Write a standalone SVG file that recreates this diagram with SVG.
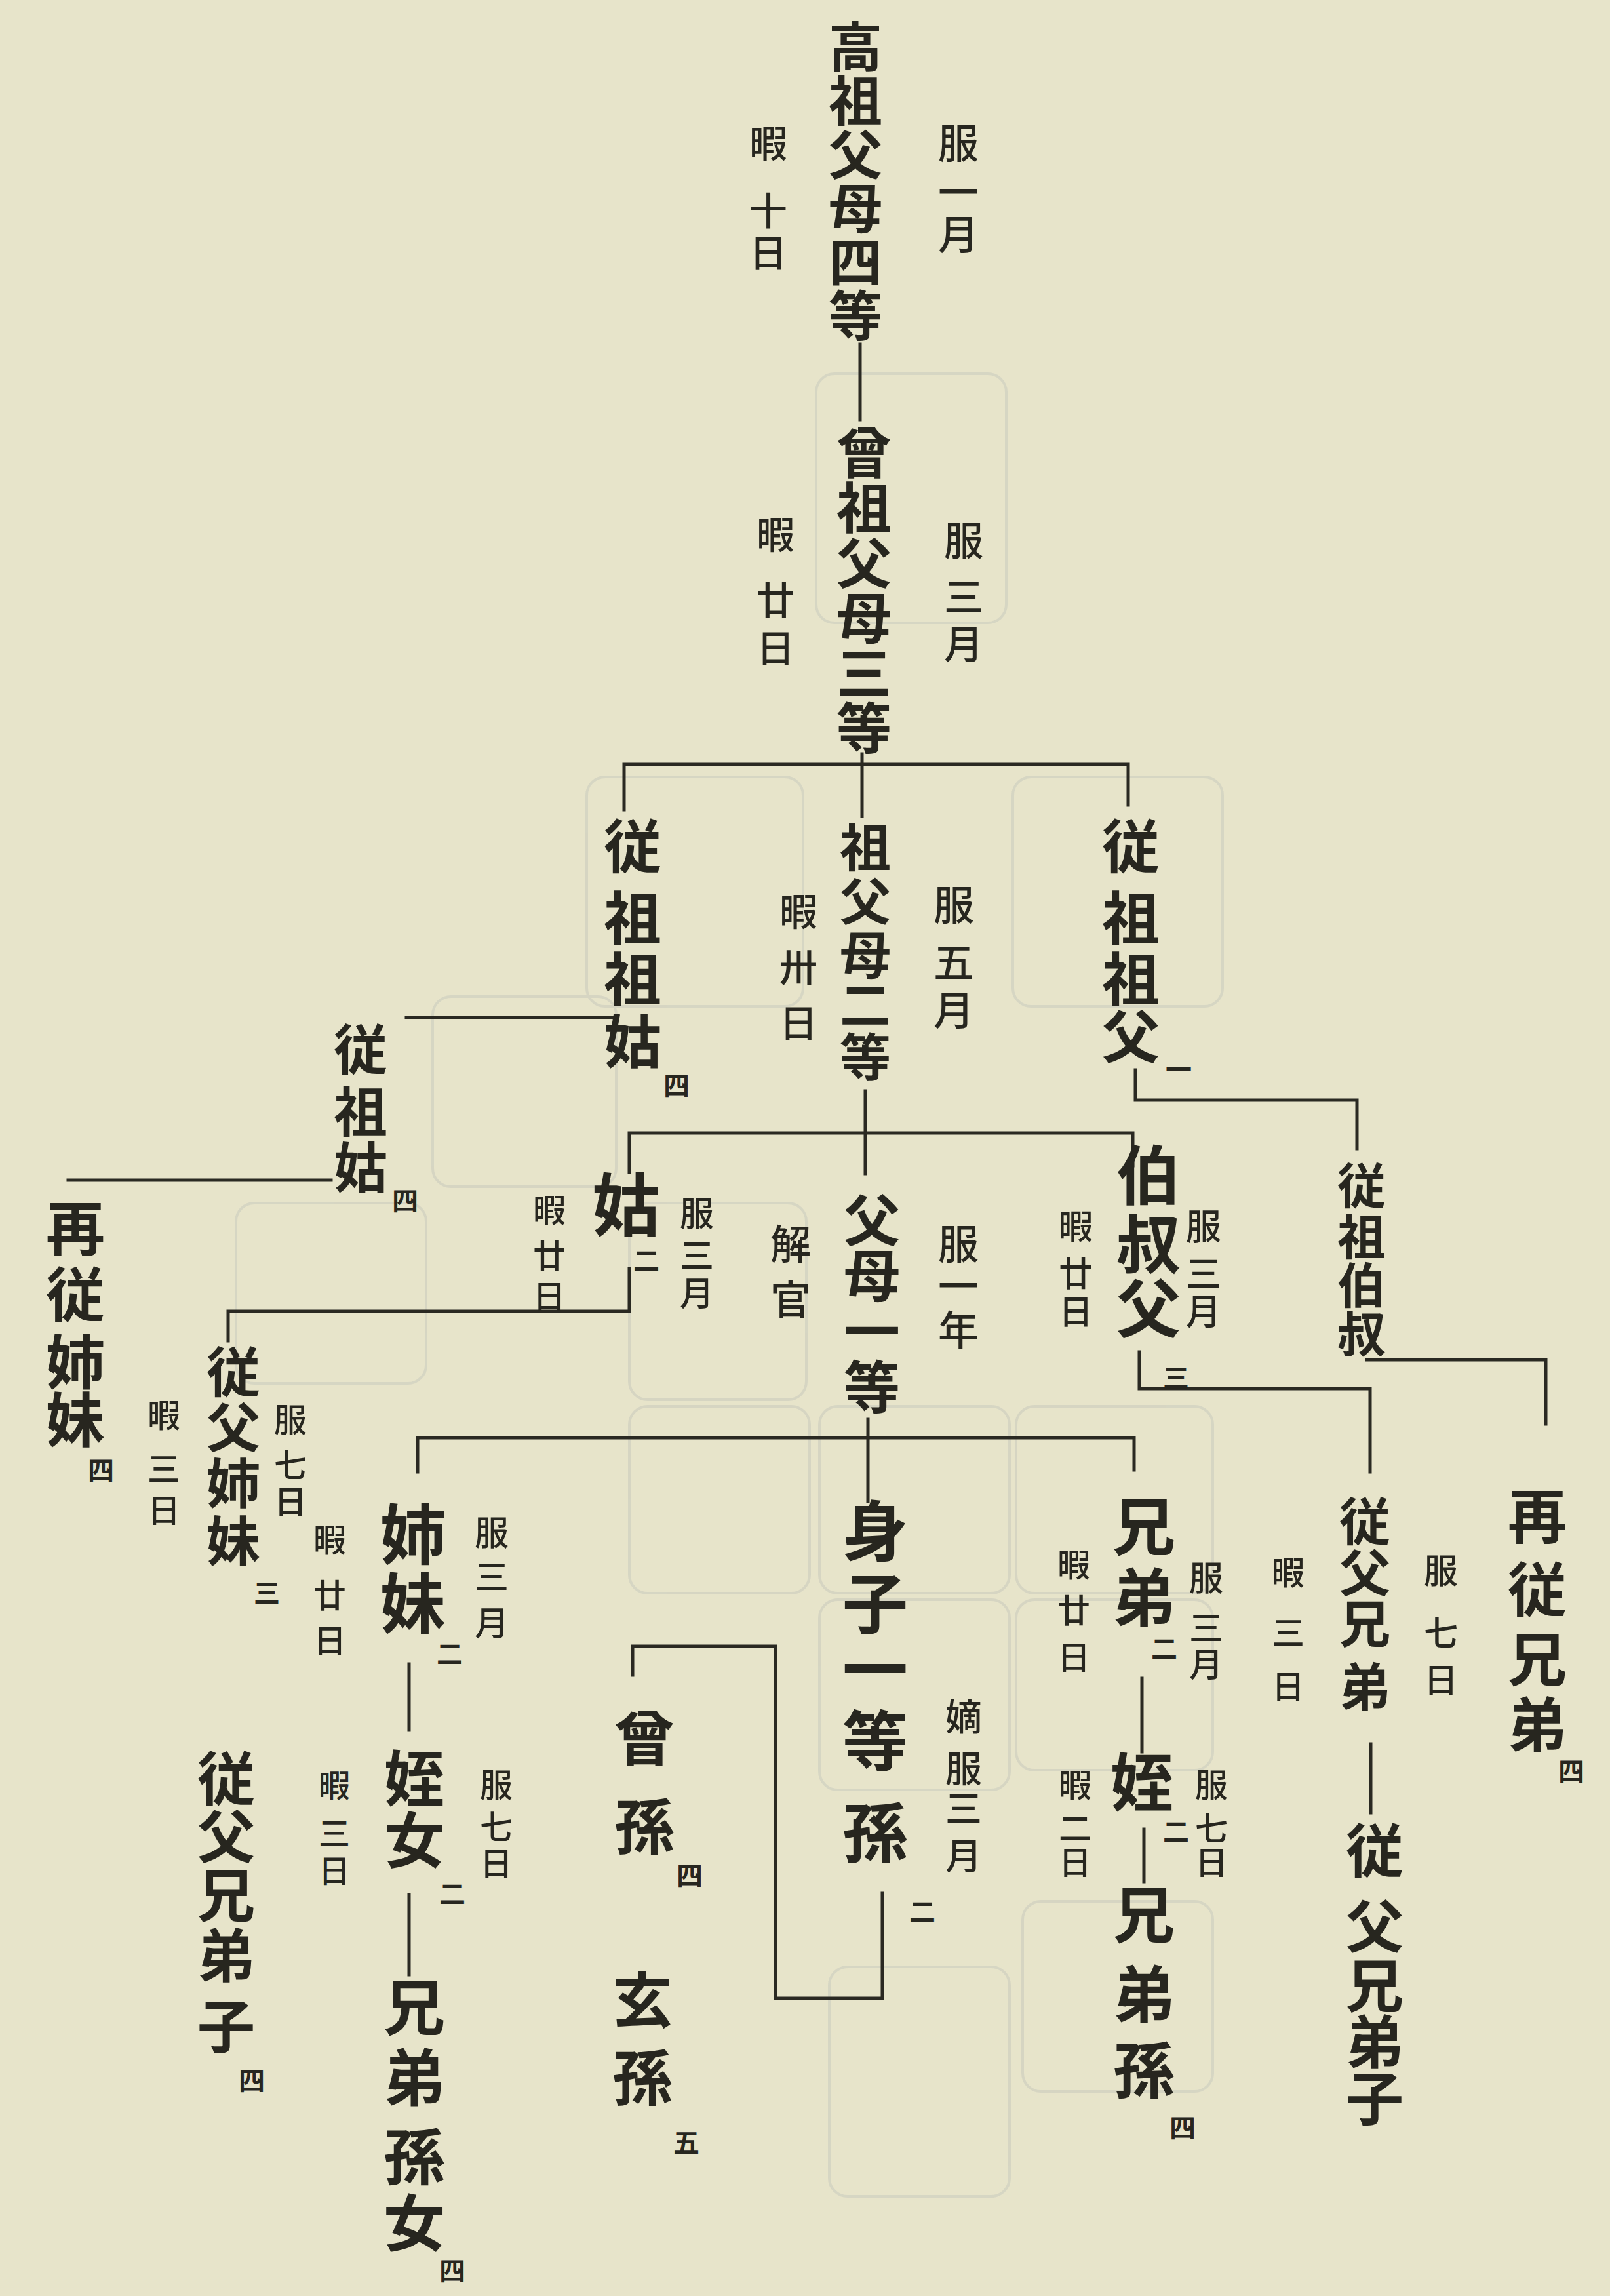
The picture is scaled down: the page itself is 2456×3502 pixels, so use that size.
<svg xmlns="http://www.w3.org/2000/svg" width="2456" height="3502" viewBox="0 0 2456 3502">
<style>
text{font-family:"Noto Sans CJK JP","Noto Sans CJK SC",sans-serif;fill:#27261f;text-anchor:middle}
.m{font-weight:700}
.s{font-weight:500}
.k{font-weight:700;font-size:40px}
.c{stroke:#2a2922;stroke-width:5;fill:none;stroke-linecap:square}
.b{stroke:#c9cabd;stroke-width:4;fill:none;opacity:0.55}
</style>
<rect width="2456" height="3502" fill="#e7e4ca"/>
<g id="bleed" class="b">
<rect x="1245" y="570" width="290" height="380" rx="28"/>
<rect x="895" y="1185" width="330" height="350" rx="28"/>
<rect x="1545" y="1185" width="320" height="350" rx="28"/>
<rect x="660" y="1520" width="280" height="290" rx="28"/>
<rect x="360" y="1835" width="290" height="275" rx="28"/>
<rect x="960" y="1835" width="270" height="300" rx="28"/>
<rect x="1250" y="2145" width="290" height="285" rx="28"/>
<rect x="1550" y="2145" width="300" height="285" rx="28"/>
<rect x="960" y="2145" width="275" height="285" rx="28"/>
<rect x="1550" y="2440" width="300" height="260" rx="28"/>
<rect x="1250" y="2440" width="290" height="290" rx="28"/>
<rect x="1560" y="2900" width="290" height="290" rx="28"/>
<rect x="1265" y="3000" width="275" height="350" rx="28"/>
</g>
<g id="connectors" class="c">
<path d="M1312 525V640"/>
<path d="M1315 1150V1245M952 1235V1166H1721V1228"/>
<path d="M1732 1632V1678H2070V1752"/>
<path d="M2085 2074H2358V2172"/>
<path d="M620 1552H940"/>
<path d="M104 1800H505"/>
<path d="M1320 1664V1790M960 1788V1728H1728V1778"/>
<path d="M960 1935V2000H348V2045"/>
<path d="M1738 2062V2118H2090V2245"/>
<path d="M2091 2660V2765"/>
<path d="M1324 2165V2290M637 2245V2193H1730V2242"/>
<path d="M1346 2888V3048H1183V2511H965V2555"/>
<path d="M624 2538V2638M624 2890V3012"/>
<path d="M1742 2560V2672M1745 2790V2870"/>
</g>
<g id="gaoso">
<text class="m" font-size="82"><tspan x="1305" y="102">高</tspan><tspan x="1305" y="184">祖</tspan><tspan x="1305" y="266">父</tspan><tspan x="1305" y="348">母</tspan><tspan x="1305" y="430">四</tspan><tspan x="1305" y="512">等</tspan></text>
<text class="s" font-size="62"><tspan x="1462" y="242">服</tspan><tspan x="1462" y="317">一</tspan><tspan x="1462" y="381">月</tspan></text>
<text class="s" font-size="58"><tspan x="1172" y="240">暇</tspan><tspan x="1172" y="343">十</tspan><tspan x="1172" y="407">日</tspan></text>
</g>
<g id="sooso">
<text class="m" font-size="84"><tspan x="1318" y="722">曾</tspan><tspan x="1318" y="806">祖</tspan><tspan x="1318" y="890">父</tspan><tspan x="1318" y="974">母</tspan><tspan x="1318" y="1058">三</tspan><tspan x="1318" y="1142">等</tspan></text>
<text class="s" font-size="60"><tspan x="1470" y="847">服</tspan><tspan x="1470" y="933">三</tspan><tspan x="1470" y="1005">月</tspan></text>
<text class="s" font-size="58"><tspan x="1183" y="837">暇</tspan><tspan x="1183" y="937">廿</tspan><tspan x="1183" y="1010">日</tspan></text>
</g>
<g id="jusosoko">
<text class="m" font-size="88"><tspan x="965" y="1323">従</tspan><tspan x="965" y="1433">祖</tspan><tspan x="965" y="1526">祖</tspan><tspan x="965" y="1621">姑</tspan></text>
<text class="k" x="1032" y="1670">四</text>
</g>
<g id="sofubo">
<text class="m" font-size="78"><tspan x="1320" y="1322">祖</tspan><tspan x="1320" y="1404">父</tspan><tspan x="1320" y="1486">母</tspan><tspan x="1320" y="1562">二</tspan><tspan x="1320" y="1642">等</tspan></text>
<text class="s" font-size="62"><tspan x="1455" y="1404">服</tspan><tspan x="1455" y="1491">五</tspan><tspan x="1455" y="1564">月</tspan></text>
<text class="s" font-size="58"><tspan x="1218" y="1412">暇</tspan><tspan x="1218" y="1497">卅</tspan><tspan x="1218" y="1582">日</tspan></text>
</g>
<g id="jusosofu">
<text class="m" font-size="88"><tspan x="1725" y="1323">従</tspan><tspan x="1725" y="1433">祖</tspan><tspan x="1725" y="1526">祖</tspan><tspan x="1725" y="1613">父</tspan></text>
<text class="k" font-size="44" x="1798" y="1646">一</text>
</g>
<g id="jusohakushuku">
<text class="m" font-size="74"><tspan x="2077" y="1836">従</tspan><tspan x="2077" y="1914">祖</tspan><tspan x="2077" y="1988">伯</tspan><tspan x="2077" y="2062">叔</tspan></text>
</g>
<g id="saijukeitei">
<text class="m" font-size="90"><tspan x="2345" y="2346">再</tspan><tspan x="2345" y="2458">従</tspan><tspan x="2345" y="2564">兄</tspan><tspan x="2345" y="2664">弟</tspan></text>
<text class="k" x="2397" y="2716">四</text>
</g>
<g id="jusoko">
<text class="m" font-size="82"><tspan x="550" y="1631">従</tspan><tspan x="550" y="1726">祖</tspan><tspan x="550" y="1811">姑</tspan></text>
<text class="k" x="618" y="1846">四</text>
</g>
<g id="saijushimai">
<text class="m" font-size="90"><tspan x="115" y="1907">再</tspan><tspan x="115" y="2008">従</tspan><tspan x="115" y="2111">姉</tspan><tspan x="115" y="2199">妹</tspan></text>
<text class="k" x="154" y="2257">四</text>
</g>
<g id="ko">
<text class="m" font-size="104" x="955" y="1877">姑</text>
<text class="k" x="986" y="1937">二</text>
<text class="s" font-size="52"><tspan x="1063" y="1870">服</tspan><tspan x="1063" y="1934">三</tspan><tspan x="1063" y="1992">月</tspan></text>
<text class="s" font-size="50"><tspan x="838" y="1864">暇</tspan><tspan x="838" y="1934">廿</tspan><tspan x="838" y="1996">日</tspan></text>
</g>
<g id="jufushimai">
<text class="m" font-size="82"><tspan x="356" y="2123">従</tspan><tspan x="356" y="2207">父</tspan><tspan x="356" y="2293">姉</tspan><tspan x="356" y="2381">妹</tspan></text>
<text class="k" x="407" y="2444">三</text>
<text class="s" font-size="50"><tspan x="443" y="2184">服</tspan><tspan x="443" y="2253">七</tspan><tspan x="443" y="2309">日</tspan></text>
<text class="s" font-size="50"><tspan x="250" y="2177">暇</tspan><tspan x="250" y="2259">三</tspan><tspan x="250" y="2322">日</tspan></text>
</g>
<g id="fubo">
<text class="m" font-size="86"><tspan x="1330" y="1893">父</tspan><tspan x="1330" y="1978">母</tspan><tspan x="1330" y="2063">一</tspan><tspan x="1330" y="2148">等</tspan></text>
<text class="s" font-size="62"><tspan x="1206" y="1921">解</tspan><tspan x="1206" y="2006">官</tspan></text>
<text class="s" font-size="62"><tspan x="1462" y="1921">服</tspan><tspan x="1462" y="1985">一</tspan><tspan x="1462" y="2052">年</tspan></text>
</g>
<g id="hakushukufu">
<text class="m" font-size="98"><tspan x="1752" y="1829">伯</tspan><tspan x="1752" y="1934">叔</tspan><tspan x="1752" y="2032">父</tspan></text>
<text class="k" x="1794" y="2116">三</text>
<text class="s" font-size="54"><tspan x="1836" y="1891">服</tspan><tspan x="1836" y="1963">三</tspan><tspan x="1836" y="2021">月</tspan></text>
<text class="s" font-size="52"><tspan x="1641" y="1890">暇</tspan><tspan x="1641" y="1962">廿</tspan><tspan x="1641" y="2020">日</tspan></text>
</g>
<g id="jufukeitei">
<text class="m" font-size="78"><tspan x="2082" y="2350">従</tspan><tspan x="2082" y="2428">父</tspan><tspan x="2082" y="2506">兄</tspan><tspan x="2082" y="2602">弟</tspan></text>
<text class="s" font-size="52"><tspan x="2198" y="2415">服</tspan><tspan x="2198" y="2510">七</tspan><tspan x="2198" y="2582">日</tspan></text>
<text class="s" font-size="50"><tspan x="1965" y="2417">暇</tspan><tspan x="1965" y="2509">三</tspan><tspan x="1965" y="2591">日</tspan></text>
</g>
<g id="jufukeiteishi-r">
<text class="m" font-size="88"><tspan x="2097" y="2855">従</tspan><tspan x="2097" y="2970">父</tspan><tspan x="2097" y="3061">兄</tspan><tspan x="2097" y="3147">弟</tspan><tspan x="2097" y="3233">子</tspan></text>
</g>
<g id="shinshi">
<text class="m" font-size="100"><tspan x="1335" y="2373">身</tspan><tspan x="1335" y="2483">子</tspan><tspan x="1335" y="2583">一</tspan><tspan x="1335" y="2693">等</tspan><tspan x="1335" y="2833">孫</tspan></text>
<text class="k" x="1407" y="2930">二</text>
<text class="s" font-size="56"><tspan x="1470" y="2639">嫡</tspan><tspan x="1470" y="2718">服</tspan><tspan x="1470" y="2779">三</tspan><tspan x="1470" y="2851">月</tspan></text>
</g>
<g id="sooson">
<text class="m" font-size="92"><tspan x="983" y="2685">曾</tspan><tspan x="983" y="2820">孫</tspan></text>
<text class="k" x="1052" y="2875">四</text>
</g>
<g id="genson">
<text class="m" font-size="92"><tspan x="980" y="3085">玄</tspan><tspan x="980" y="3203">孫</tspan></text>
<text class="k" x="1047" y="3283">五</text>
</g>
<g id="shimai">
<text class="m" font-size="100"><tspan x="630" y="2378">姉</tspan><tspan x="630" y="2483">妹</tspan></text>
<text class="k" x="686" y="2537">二</text>
<text class="s" font-size="52"><tspan x="750" y="2357">服</tspan><tspan x="750" y="2424">三</tspan><tspan x="750" y="2495">月</tspan></text>
<text class="s" font-size="50"><tspan x="503" y="2367">暇</tspan><tspan x="503" y="2452">廿</tspan><tspan x="503" y="2521">日</tspan></text>
</g>
<g id="meijo">
<text class="m" font-size="92"><tspan x="632" y="2747">姪</tspan><tspan x="632" y="2841">女</tspan></text>
<text class="k" x="690" y="2903">二</text>
<text class="s" font-size="50"><tspan x="757" y="2741">服</tspan><tspan x="757" y="2805">七</tspan><tspan x="757" y="2861">日</tspan></text>
<text class="s" font-size="48"><tspan x="510" y="2741">暇</tspan><tspan x="510" y="2814">三</tspan><tspan x="510" y="2871">日</tspan></text>
</g>
<g id="keiteisonjo">
<text class="m" font-size="94"><tspan x="632" y="3097">兄</tspan><tspan x="632" y="3204">弟</tspan><tspan x="632" y="3325">孫</tspan><tspan x="632" y="3426">女</tspan></text>
<text class="k" x="690" y="3478">四</text>
</g>
<g id="jufukeiteishi-l">
<text class="m" font-size="88"><tspan x="345" y="2745">従</tspan><tspan x="345" y="2833">父</tspan><tspan x="345" y="2923">兄</tspan><tspan x="345" y="3015">弟</tspan><tspan x="345" y="3123">子</tspan></text>
<text class="k" x="384" y="3188">四</text>
</g>
<g id="keitei">
<text class="m" font-size="96"><tspan x="1745" y="2364">兄</tspan><tspan x="1745" y="2472">弟</tspan></text>
<text class="k" x="1776" y="2529">二</text>
<text class="s" font-size="52"><tspan x="1840" y="2426">服</tspan><tspan x="1840" y="2502">三</tspan><tspan x="1840" y="2558">月</tspan></text>
<text class="s" font-size="50"><tspan x="1638" y="2405">暇</tspan><tspan x="1638" y="2475">廿</tspan><tspan x="1638" y="2546">日</tspan></text>
</g>
<g id="mei">
<text class="m" font-size="96" x="1742" y="2754">姪</text>
<text class="k" x="1794" y="2808">二</text>
<text class="s" font-size="50"><tspan x="1848" y="2741">服</tspan><tspan x="1848" y="2807">七</tspan><tspan x="1848" y="2859">日</tspan></text>
<text class="s" font-size="50"><tspan x="1640" y="2741">暇</tspan><tspan x="1640" y="2807">二</tspan><tspan x="1640" y="2859">日</tspan></text>
</g>
<g id="keiteison">
<text class="m" font-size="94"><tspan x="1745" y="2956">兄</tspan><tspan x="1745" y="3077">弟</tspan><tspan x="1745" y="3193">孫</tspan></text>
<text class="k" x="1804" y="3260">四</text>
</g>
</svg>
